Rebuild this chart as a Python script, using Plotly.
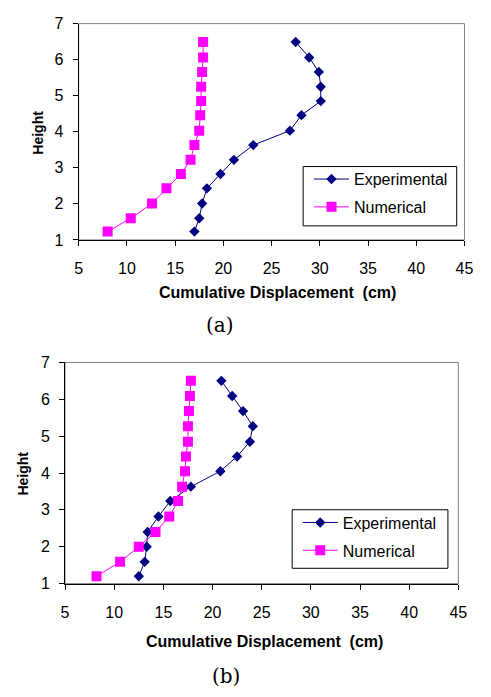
import plotly.graph_objects as go

# Storey heights (m) at which displacement was recorded
height_a = [1.23, 1.60, 2.01, 2.43, 2.83, 3.22, 3.63, 4.03, 4.46, 4.85, 5.25, 5.66, 6.06, 6.49]
height_b = [1.20, 1.59, 2.00, 2.40, 2.82, 3.24, 3.63, 4.05, 4.45, 4.85, 5.27, 5.68, 6.09, 6.50]

# Case (a): cumulative displacement (cm)
exp_a = [17.0, 17.5, 17.8, 18.3, 19.7, 21.1, 23.1, 26.9, 28.1, 30.1, 30.1, 29.9, 28.9, 27.5]
num_a = [8.0, 10.4, 12.6, 14.1, 15.6, 16.6, 17.0, 17.5, 17.6, 17.7, 17.7, 17.8, 17.9, 17.9]

# Case (b): cumulative displacement (cm)
exp_b = [12.5, 13.1, 13.3, 13.4, 14.5, 15.7, 17.8, 20.8, 22.5, 23.8, 24.1, 23.1, 22.0, 20.9]
num_b = [8.2, 10.6, 12.5, 14.2, 15.6, 16.5, 16.9, 17.2, 17.3, 17.5, 17.5, 17.6, 17.7, 17.8]

x_ticks = [5, 10, 15, 20, 25, 30, 35, 40, 45]
y_ticks = [1, 2, 3, 4, 5, 6, 7]

W, H = 491, 697
FONT = "Liberation Sans, Arial, sans-serif"
NAVY = "#000080"
MAGENTA = "#FF00FF"


def px(x):
    return x / W


def py(y):
    return 1 - y / H


fig = go.Figure()

panels = [
    ("", exp_a, num_a, height_a, "legend"),
    ("2", exp_b, num_b, height_b, "legend2"),
]
for suffix, exp, num, hts, leg in panels:
    fig.add_trace(go.Scatter(
        x=exp, y=hts, mode="lines+markers", name="Experimental",
        xaxis="x" + suffix, yaxis="y" + suffix, legend=leg,
        legendgroup="exp" + suffix,
        line=dict(color=NAVY, width=1),
        marker=dict(symbol="diamond", size=8, color=NAVY),
    ))
    fig.add_trace(go.Scatter(
        x=num, y=hts, mode="lines+markers", name="Numerical",
        xaxis="x" + suffix, yaxis="y" + suffix, legend=leg,
        legendgroup="num" + suffix,
        line=dict(color=MAGENTA, width=1),
        marker=dict(symbol="square", size=10, color=MAGENTA),
    ))

axis_common = dict(
    showline=True, linecolor="black", linewidth=1,
    ticks="outside", ticklen=5, tickcolor="black", tickwidth=1,
    showgrid=False, zeroline=False,
    tickfont=dict(family=FONT, size=16, color="black"),
)

# Plot-area rectangles in pixels: (left, top, right, bottom)
area_a = (76.7, 16.0, 473.0, 237.7)
area_b = (62.7, 363.3, 466.7, 590.0)

layout = dict(
    width=W, height=H,
    margin=dict(l=0, r=0, t=0, b=0),
    paper_bgcolor="white", plot_bgcolor="white",
    showlegend=True,
)
for suffix, area in (("", area_a), ("2", area_b)):
    l, t, r, b = area
    layout["xaxis" + suffix] = dict(
        axis_common, range=[5, 45], tickvals=x_ticks,
        domain=[px(l), px(r)], anchor="y" + suffix,
        ticklabelstandoff=9,
    )
    layout["yaxis" + suffix] = dict(
        axis_common, range=[1, 7], tickvals=y_ticks,
        domain=[py(b), py(t)], anchor="x" + suffix,
        ticklabelstandoff=6,
    )

legend_common = dict(
    font=dict(family=FONT, size=16, color="black"),
    bgcolor="rgba(0,0,0,0)", borderwidth=0,
    xanchor="left", yanchor="top", itemwidth=35,
    traceorder="grouped", tracegroupgap=4,
)
layout["legend"] = dict(legend_common, x=px(313.3), y=py(158.0))
layout["legend2"] = dict(legend_common, x=px(301.7), y=py(510.0))

fig.update_layout(**layout)

shapes = []
# light frame around each plot area
for suffix in ("", "2"):
    shapes.append(dict(
        type="rect", xref="x" + suffix + " domain", yref="y" + suffix + " domain",
        x0=0, x1=1, y0=0, y1=1, line=dict(color="#808080", width=1),
        layer="below",
    ))
# legend boxes
for (l, t, r, b) in ((307.3, 162.5, 465.0, 223.3), (296.0, 514.3, 456.0, 574.3)):
    shapes.append(dict(
        type="rect", xref="paper", yref="paper",
        x0=px(l), x1=px(r), y0=py(b), y1=py(t),
        line=dict(color="black", width=1),
    ))
fig.update_layout(shapes=shapes)

annotations = []
for (cx, cy), (hx, hy), (lx, ly), tag in (
    ((281, 292), (34, 127.7), (222, 325), "(a)"),
    ((268, 649), (20, 476.7), (228, 685), "(b)"),
):
    annotations.append(dict(
        text="<b>Cumulative Displacement  (cm)</b>", x=px(cx), y=py(cy),
        xref="paper", yref="paper", showarrow=False,
        xanchor="center", yanchor="middle",
        font=dict(family=FONT, size=16, color="black"),
    ))
    annotations.append(dict(
        text="<b>Height</b>", x=px(hx), y=py(hy), textangle=-90,
        xref="paper", yref="paper", showarrow=False,
        xanchor="center", yanchor="middle",
        font=dict(family=FONT, size=14, color="black"),
    ))
    annotations.append(dict(
        text=tag, x=px(lx), y=py(ly),
        xref="paper", yref="paper", showarrow=False,
        xanchor="center", yanchor="middle",
        font=dict(family="DejaVu Serif, Cambria, serif", size=20, color="black"),
    ))
fig.update_layout(annotations=annotations)

fig.write_html("out.html")
